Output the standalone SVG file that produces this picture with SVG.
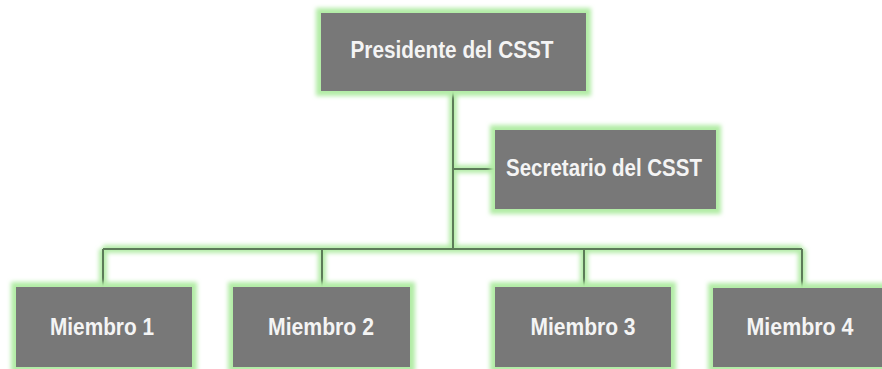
<svg xmlns="http://www.w3.org/2000/svg" width="882" height="369" viewBox="0 0 882 369">
  <defs>
    <filter id="glow" x="-20%" y="-30%" width="140%" height="160%">
      <feGaussianBlur stdDeviation="2"/>
    </filter>
    <style>
      .halo { fill: none; stroke: #b2ecA6; stroke-width: 10; filter: url(#glow); }
      .box { fill: #787878; }
      .lbl { font-family: "Liberation Sans", Arial, sans-serif; font-weight: bold; font-size: 23.5px; fill: #f4f4f4; text-anchor: middle; }
      .lineHalo { fill: none; stroke: #b4eca8; stroke-width: 8; filter: url(#glow); }
      .line { fill: none; stroke: #5c7b58; stroke-width: 2; }
    </style>
  </defs>
  <rect x="0" y="0" width="882" height="369" fill="#ffffff"/>
  <g id="connectors">
    <path class="lineHalo" d="M453,91 V249 M453,169 H495 M103,249 H802 M103,249 V287 M322,249 V287 M584,249 V287 M802,249 V288"/>
    <path class="line" d="M453,91 V249 M453,169 H495 M103,249 H802 M103,249 V287 M322,249 V287 M584,249 V287 M802,249 V288"/>
  </g>
  <g id="presidente">
    <rect class="halo" x="321" y="13" width="265" height="78"/>
    <rect class="box" x="321" y="13" width="265" height="78"/>
    <text class="lbl" x="452" y="58" textLength="203" lengthAdjust="spacingAndGlyphs">Presidente del CSST</text>
  </g>
  <g id="secretario">
    <rect class="halo" x="495" y="130" width="221" height="79"/>
    <rect class="box" x="495" y="130" width="221" height="79"/>
    <text class="lbl" x="604" y="176" textLength="196" lengthAdjust="spacingAndGlyphs">Secretario del CSST</text>
  </g>
  <g id="miembro1">
    <rect class="halo" x="16" y="287" width="176" height="80"/>
    <rect class="box" x="16" y="287" width="176" height="80"/>
    <text class="lbl" x="102" y="335" textLength="104" lengthAdjust="spacingAndGlyphs">Miembro 1</text>
  </g>
  <g id="miembro2">
    <rect class="halo" x="233" y="287" width="177" height="80"/>
    <rect class="box" x="233" y="287" width="177" height="80"/>
    <text class="lbl" x="321" y="335" textLength="106" lengthAdjust="spacingAndGlyphs">Miembro 2</text>
  </g>
  <g id="miembro3">
    <rect class="halo" x="495" y="287" width="176" height="80"/>
    <rect class="box" x="495" y="287" width="176" height="80"/>
    <text class="lbl" x="583" y="335" textLength="105" lengthAdjust="spacingAndGlyphs">Miembro 3</text>
  </g>
  <g id="miembro4">
    <rect class="halo" x="713" y="288" width="176" height="79"/>
    <rect class="box" x="713" y="288" width="176" height="79"/>
    <text class="lbl" x="800" y="335" textLength="107" lengthAdjust="spacingAndGlyphs">Miembro 4</text>
  </g>
</svg>
